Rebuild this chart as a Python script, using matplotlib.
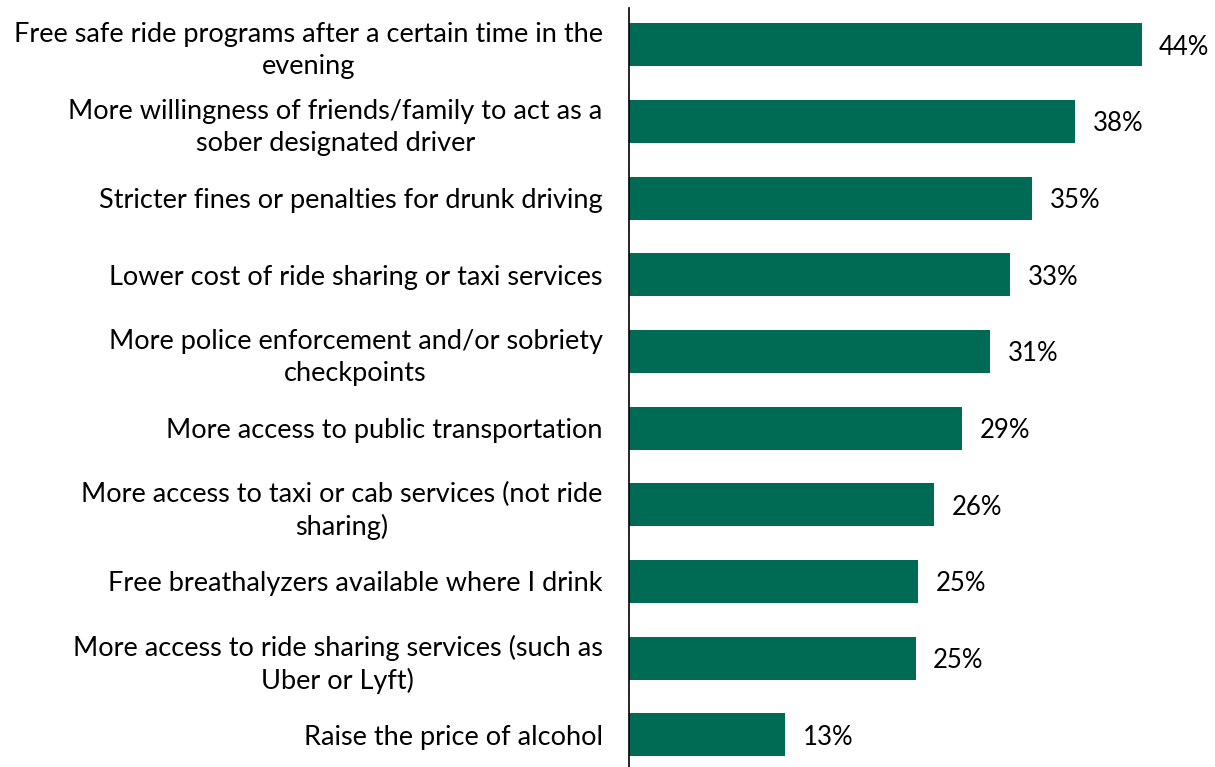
import matplotlib.pyplot as plt
import numpy as np

plt.rcParams['font.family'] = ['Lato', 'DejaVu Sans']

labels = [
    "Free safe ride programs after a certain time in the\nevening",
    "More willingness of friends/family to act as a\nsober designated driver",
    "Stricter fines or penalties for drunk driving",
    "Lower cost of ride sharing or taxi services",
    "More police enforcement and/or sobriety\ncheckpoints",
    "More access to public transportation",
    "More access to taxi or cab services (not ride\nsharing)",
    "Free breathalyzers available where I drink",
    "More access to ride sharing services (such as\nUber or Lyft)",
    "Raise the price of alcohol",
]
values = [44.0, 38.3, 34.6, 32.7, 31.0, 28.6, 26.2, 24.8, 24.6, 13.4]
bar_color = "#006B54"

fig = plt.figure(figsize=(12.15, 7.67), dpi=100)
ax = fig.add_axes([629 / 1215, 0, 1 - 629 / 1215, 1 - 8 / 767])

pos = np.arange(len(values))
ax.barh(pos, values, height=0.56, color=bar_color)
ax.set_xlim(0, 50.3)
ax.set_ylim(9.42, -0.48)

# value labels
for y, v in zip(pos, values):
    ax.text(v + 1.5, y + 0.03, f"{round(v)}%", va="center", ha="left", fontsize=18.5, color="black")

ax.set_yticks(pos)
ax.set_yticklabels(labels, fontsize=19.5, ha="right", multialignment="center", linespacing=1.35)
ax.tick_params(axis="y", length=0, pad=19)
ax.set_xticks([])
for side in ["top", "right", "bottom"]:
    ax.spines[side].set_visible(False)
ax.spines["left"].set_linewidth(1.2)

fig.savefig("out.png", dpi=100)
